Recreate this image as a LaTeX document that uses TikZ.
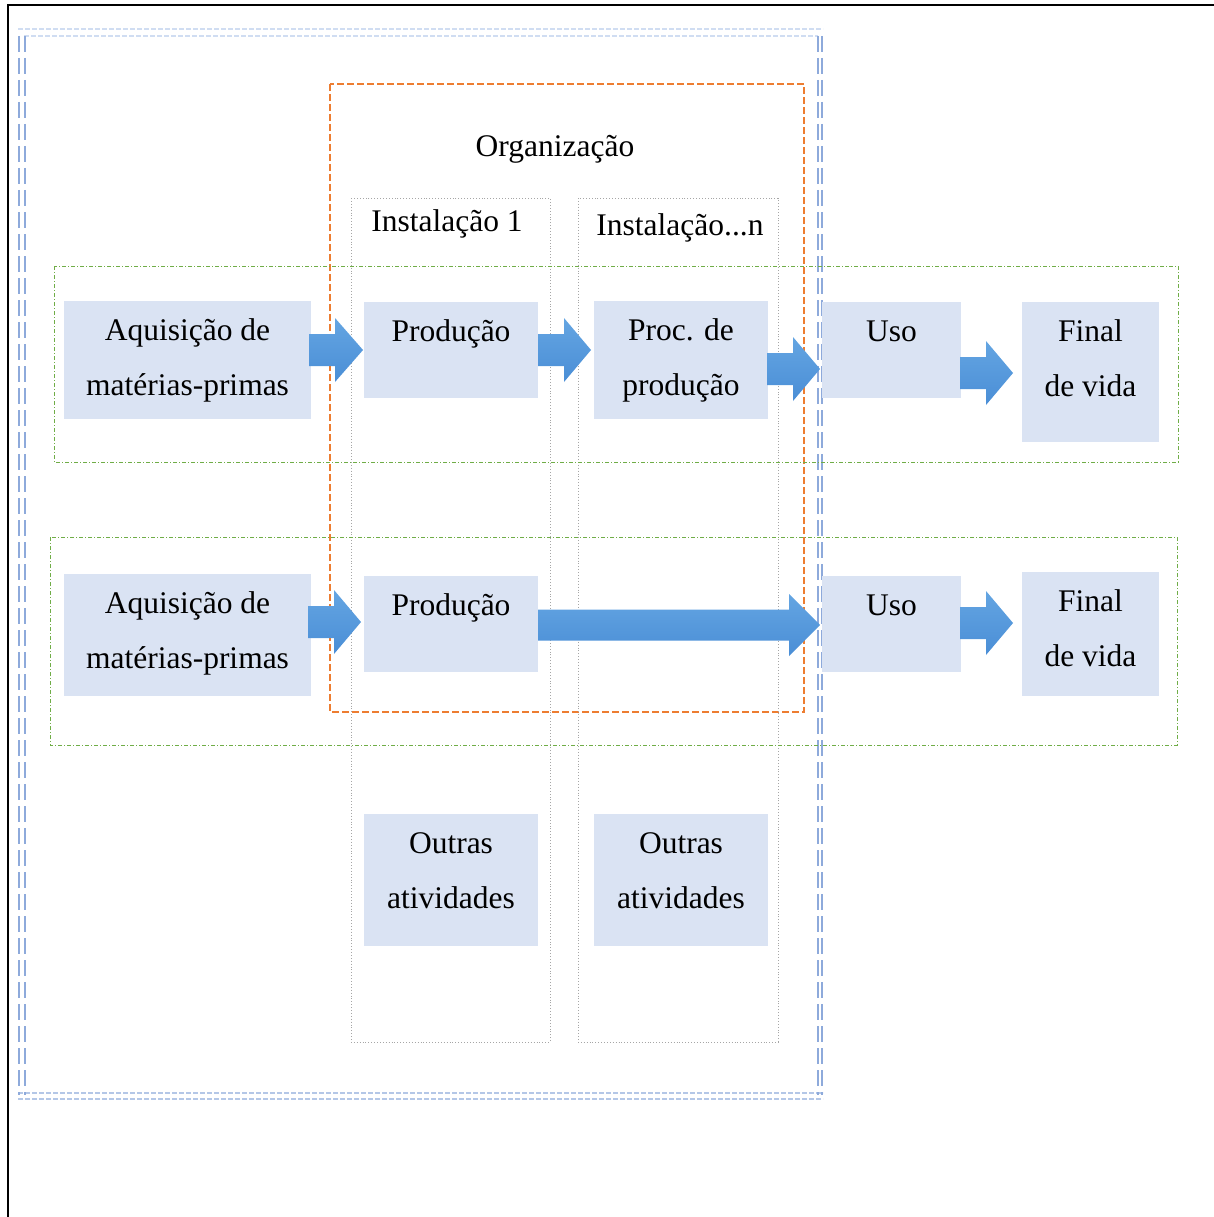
\documentclass[tikz,border=0pt]{standalone}
\usepackage{fontspec}
\setmainfont{Liberation Serif}
\definecolor{boxfill}{HTML}{DAE3F3}
\definecolor{arrtop}{HTML}{64A5E2}
\definecolor{arrbot}{HTML}{4A8ED6}
\definecolor{orgline}{HTML}{ED7D31}
\definecolor{siteline}{HTML}{A6A6A6}
\definecolor{chainline}{HTML}{70AD47}
\definecolor{bordlight}{HTML}{D0DDF2}
\definecolor{bordmid}{HTML}{8EAADB}
\definecolor{bordlow}{HTML}{B4C7E7}
% block arrow: shaft start, head base, tip, centre y, shaft half height, head half height
\newcommand\barrow[6]{%
  \path[top color=arrtop,bottom color=arrbot]
    (#1,#4-#5) -- (#2,#4-#5) -- (#2,#4-#6) -- (#3,#4) -- (#2,#4+#6)
    -- (#2,#4+#5) -- (#1,#4+#5) -- cycle;}
\begin{document}
\begin{tikzpicture}[x=1pt,y=-1pt,
  box/.style={fill=boxfill,draw=none,inner sep=0pt},
  txt/.style={font=\fontsize{31.5}{38}\selectfont,inner sep=0pt,anchor=base},
  orgbox/.style={draw=orgline,line width=1.2pt,dash pattern=on 7pt off 3pt},
  sitebox/.style={draw=siteline,line width=0.9pt,dotted},
  chainbox/.style={draw=chainline,line width=0.9pt,dash pattern=on 4pt off 2pt on 1pt off 2pt},
  hbord/.style={line width=2pt,dash pattern=on 5pt off 2pt},
  vbord/.style={draw=bordmid,line width=2pt,dash pattern=on 16pt off 6pt}]
\useasboundingbox (0,0) rectangle (1214,1217);

% page frame
\draw[line width=2.2pt] (8,1217) -- (8,5) -- (1214,5);

% double dashed system boundary
\draw[hbord,draw=bordlight] (18,29.5) -- (823,29.5);
\draw[hbord,draw=bordlight] (24,36.5) -- (818,36.5);
\draw[hbord,draw=bordlow] (18,1093) -- (823,1093);
\draw[hbord,draw=bordlow] (18,1099) -- (823,1099);
\draw[vbord] (19,36) -- (19,1095);
\draw[vbord] (25,36) -- (25,1095);
\draw[vbord] (817.5,36) -- (817.5,1095);
\draw[vbord] (822,36) -- (822,1095);

% organisation and its sites
\draw[orgbox] (330,84) rectangle (804,712);
\draw[sitebox] (351,198) rectangle (550,1042);
\draw[sitebox] (578,198) rectangle (778,1042);

% the two product chains
\draw[chainbox] (54,266) rectangle (1178,462);
\draw[chainbox] (50,537) rectangle (1177,745);

\node[txt] (org) at (555,157) {Organização};
\node[txt] (ins1) at (447,231) {Instalação 1};
\node[txt] (insn) at (680,235) {Instalação...n};

% first chain
\node[box,minimum width=247,minimum height=118] (aq1) at (187.5,360) {};
\node[box,minimum width=174,minimum height=96] (pr1) at (451,350) {};
\node[box,minimum width=174,minimum height=118] (pp1) at (681,360) {};
\node[box,minimum width=139,minimum height=96] (us1) at (891.5,350) {};
\node[box,minimum width=137,minimum height=140] (fv1) at (1090.5,372) {};

\node[txt] (aq1a) at (187.5,340) {Aquisição de};
\node[txt] (aq1b) at (187.5,395) {matérias-primas};
\node[txt] (pr1a) at (451,341) {Produção};
\node[txt] (pp1a) at (681,340) {Proc. de};
\node[txt] (pp1b) at (681,395) {produção};
\node[txt] (us1a) at (891.5,341) {Uso};
\node[txt] (fv1a) at (1090.5,341) {Final};
\node[txt] (fv1b) at (1090.5,396) {de vida};

% second chain
\node[box,minimum width=247,minimum height=122] (aq2) at (187.5,635) {};
\node[box,minimum width=174,minimum height=96] (pr2) at (451,624) {};
\node[box,minimum width=139,minimum height=96] (us2) at (891.5,624) {};
\node[box,minimum width=137,minimum height=124] (fv2) at (1090.5,634) {};

\node[txt] (aq2a) at (187.5,613) {Aquisição de};
\node[txt] (aq2b) at (187.5,668) {matérias-primas};
\node[txt] (pr2a) at (451,615) {Produção};
\node[txt] (us2a) at (891.5,615) {Uso};
\node[txt] (fv2a) at (1090.5,611) {Final};
\node[txt] (fv2b) at (1090.5,666) {de vida};

% other activities of each site
\node[box,minimum width=174,minimum height=132] (oa1) at (451,880) {};
\node[box,minimum width=174,minimum height=132] (oa2) at (681,880) {};
\node[txt] (oa1a) at (451,853) {Outras};
\node[txt] (oa1b) at (451,908) {atividades};
\node[txt] (oa2a) at (681,853) {Outras};
\node[txt] (oa2b) at (681,908) {atividades};

% flow arrows
\barrow{309}{335}{363}{350}{16}{32}
\barrow{538}{564}{591}{350}{16}{32}
\barrow{767}{793}{820}{369}{16}{32}
\barrow{960}{986}{1013}{373}{16}{32}
\barrow{308}{334}{361}{622}{16}{32}
\barrow{538}{789}{820}{625}{15.5}{31}
\barrow{960}{986}{1013}{623}{16}{32}
\end{tikzpicture}
\end{document}
